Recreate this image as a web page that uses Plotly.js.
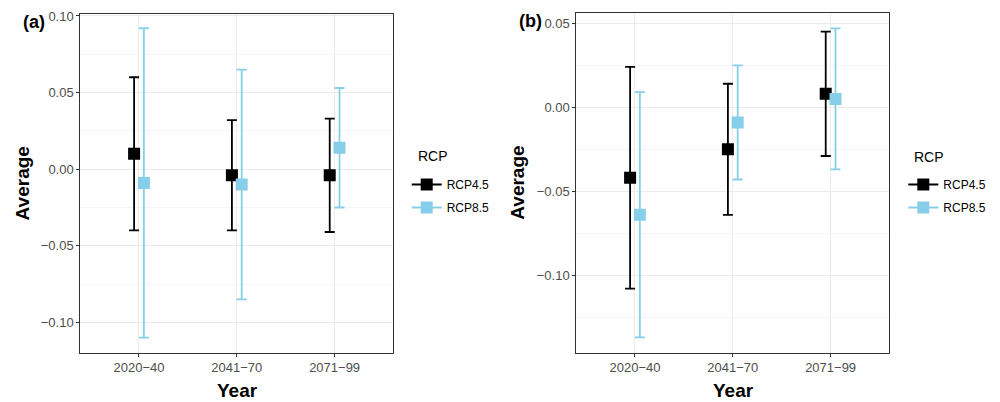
<!DOCTYPE html>
<html>
<head>
<meta charset="utf-8">
<script src="https://cdn.plot.ly/plotly-3.0.1.min.js"></script>
<style>html,body{margin:0;padding:0;background:#fff;}#chart{width:1000px;height:402px;}</style>
</head>
<body>
<div id="chart"></div>
<script>
// ---- data ----
const periods = ["2020\u221240", "2041\u221270", "2071\u221299"];
const seriesNames = ["RCP4.5", "RCP8.5"];
const legendTitle = "RCP";

// Panel (a)
const a_rcp45_mean  = [0.010, -0.004, -0.004];
const a_rcp45_lower = [-0.040, -0.040, -0.041];
const a_rcp45_upper = [0.060, 0.032, 0.033];
const a_rcp85_mean  = [-0.009, -0.010, 0.014];
const a_rcp85_lower = [-0.110, -0.085, -0.025];
const a_rcp85_upper = [0.092, 0.065, 0.053];

// Panel (b)
const b_rcp45_mean  = [-0.042, -0.025, 0.008];
const b_rcp45_lower = [-0.108, -0.064, -0.029];
const b_rcp45_upper = [0.024, 0.014, 0.045];
const b_rcp85_mean  = [-0.064, -0.009, 0.005];
const b_rcp85_lower = [-0.137, -0.043, -0.037];
const b_rcp85_upper = [0.009, 0.025, 0.047];

const yTickVals = [-0.10, -0.05, 0.00, 0.05, 0.10];

// ---- styles ----
const colors = {"RCP4.5": "#000000", "RCP8.5": "#87CEEB"};
const dodge = {"RCP4.5": -0.05, "RCP8.5": 0.05};
const FONT = "Liberation Sans, Arial, Helvetica, sans-serif";

function trace(name, mean, lower, upper, xa, ya) {
  return {
    type: "scatter", mode: "markers", name: name, showlegend: false,
    x: periods.map((p, i) => i + dodge[name]),
    y: mean,
    xaxis: xa, yaxis: ya,
    marker: {symbol: "square", size: 12, color: colors[name], line: {width: 0}},
    error_y: {
      type: "data", symmetric: false,
      array: upper.map((u, i) => u - mean[i]),
      arrayminus: mean.map((m, i) => m - lower[i]),
      color: colors[name], thickness: 1.8, width: 5
    },
    hoverinfo: "skip"
  };
}
function legendTrace(name, legendId) {
  return {
    type: "scatter", mode: "lines+markers", name: name,
    x: [null], y: [null], legend: legendId, legendgroup: legendId + name, showlegend: true,
    marker: {symbol: "square", size: 12, color: colors[name]},
    line: {color: colors[name], width: 1.8},
    hoverinfo: "skip"
  };
}

const data = [
  trace("RCP4.5", a_rcp45_mean, a_rcp45_lower, a_rcp45_upper, "x", "y"),
  trace("RCP8.5", a_rcp85_mean, a_rcp85_lower, a_rcp85_upper, "x", "y"),
  trace("RCP4.5", b_rcp45_mean, b_rcp45_lower, b_rcp45_upper, "x2", "y2"),
  trace("RCP8.5", b_rcp85_mean, b_rcp85_lower, b_rcp85_upper, "x2", "y2")
];
seriesNames.forEach(n => data.push(legendTrace(n, "legend")));
seriesNames.forEach(n => data.push(legendTrace(n, "legend2")));

function xaxis(domain, anchor) {
  return {
    domain: domain, anchor: anchor, range: [-0.6, 2.6],
    tickmode: "array", tickvals: periods.map((p, i) => i), ticktext: periods,
    showgrid: true, gridcolor: "#ebebeb", gridwidth: 1,
    showline: true, mirror: true, linecolor: "#333333", linewidth: 1,
    ticks: "outside", ticklen: 3, tickcolor: "#333333", tickwidth: 1,
    tickfont: {family: FONT, size: 13, color: "#4d4d4d"},
    zeroline: false, automargin: false, fixedrange: true
  };
}
function yaxis(domain, anchor, range) {
  return {
    domain: domain, anchor: anchor, range: range,
    tickmode: "array", tickvals: yTickVals, tickformat: ".2f",
    showgrid: true, gridcolor: "#ebebeb", gridwidth: 1,
    minor: {tickmode: "array", tickvals: yTickVals.map(v => v + 0.025).concat([yTickVals[0] - 0.025]), showgrid: true, gridcolor: "#ebebeb", gridwidth: 0.5, ticks: ""},
    showline: true, mirror: true, linecolor: "#333333", linewidth: 1,
    ticks: "outside", ticklen: 3, tickcolor: "#333333", tickwidth: 1,
    tickfont: {family: FONT, size: 13, color: "#4d4d4d"},
    zeroline: false, automargin: false, fixedrange: true
  };
}

function legendCfg(x) {
  return {
    x: x, xanchor: "left", y: 1 - 170 / 402, yanchor: "top",
    font: {family: FONT, size: 12, color: "#000"},
    bgcolor: "rgba(0,0,0,0)", borderwidth: 0, tracegroupgap: 4
  };
}

const titleFont = {family: FONT, size: 19, color: "#000"};
const legTitleFont = {family: FONT, size: 14, color: "#000"};
const layout = {
  width: 1000, height: 402,
  margin: {l: 0, r: 0, t: 0, b: 0},
  paper_bgcolor: "#fff", plot_bgcolor: "#fff",
  showlegend: true,
  xaxis: xaxis([0.0803, 0.3933], "y"),
  yaxis: yaxis([1 - 352.7 / 402, 1 - 14 / 402], "x", [-0.1198, 0.1013]),
  xaxis2: xaxis([0.5763, 0.8893], "y2"),
  yaxis2: yaxis([1 - 352.7 / 402, 1 - 12.7 / 402], "x2", [-0.1461, 0.0563]),
  legend: legendCfg(0.4067),
  legend2: legendCfg(0.9033),
  annotations: [
    {text: "<b>Average</b>", textangle: -90, x: 22 / 1000, y: 1 - 183.4 / 402, xref: "paper", yref: "paper", xanchor: "center", yanchor: "middle", showarrow: false, font: titleFont},
    {text: "<b>Year</b>", x: 237 / 1000, y: 1 - 390 / 402, xref: "paper", yref: "paper", xanchor: "center", yanchor: "middle", showarrow: false, font: titleFont},
    {text: "<b>Average</b>", textangle: -90, x: 518 / 1000, y: 1 - 182.7 / 402, xref: "paper", yref: "paper", xanchor: "center", yanchor: "middle", showarrow: false, font: titleFont},
    {text: "<b>Year</b>", x: 733 / 1000, y: 1 - 390 / 402, xref: "paper", yref: "paper", xanchor: "center", yanchor: "middle", showarrow: false, font: titleFont},
    {text: "<b>(a)</b>", x: 21 / 1000, y: 1 - 22 / 402, xref: "paper", yref: "paper", xanchor: "left", yanchor: "middle", showarrow: false, font: {family: FONT, size: 18, color: "#000"}},
    {text: "<b>(b)</b>", x: 517 / 1000, y: 1 - 21.5 / 402, xref: "paper", yref: "paper", xanchor: "left", yanchor: "middle", showarrow: false, font: {family: FONT, size: 18, color: "#000"}},
    {text: legendTitle, x: 415.5 / 1000, y: 1 - 156 / 402, xref: "paper", yref: "paper", xanchor: "left", yanchor: "middle", showarrow: false, font: legTitleFont},
    {text: legendTitle, x: 911.5 / 1000, y: 1 - 156.5 / 402, xref: "paper", yref: "paper", xanchor: "left", yanchor: "middle", showarrow: false, font: legTitleFont}
  ]
};

Plotly.newPlot("chart", data, layout, {staticPlot: true, displayModeBar: false});
</script>
</body>
</html>
